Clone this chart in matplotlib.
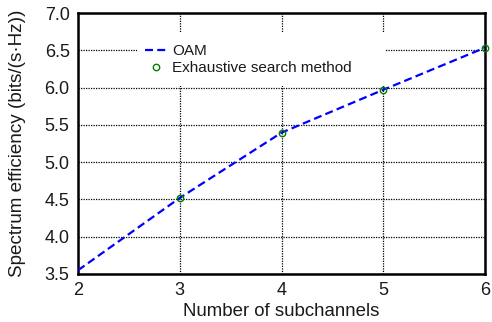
import matplotlib
matplotlib.use("Agg")
import matplotlib.pyplot as plt
from matplotlib.patches import Rectangle

plt.rcParams['font.family'] = ['Liberation Sans', 'DejaVu Sans']

subchannels = [2, 3, 4, 5, 6]
oam_efficiency = [3.55, 4.52, 5.395, 5.97, 6.535]
search_channels = [3, 4, 5, 6]
search_efficiency = [4.52, 5.395, 5.97, 6.535]

W, H = 492, 322
fig = plt.figure(figsize=(W / 100, H / 100), dpi=100)
ax = fig.add_axes([78 / W, 1 - 274 / H, (485 - 78) / W, (274 - 13) / H])
text_color = '#1a1a1a'

ax.plot(subchannels, oam_efficiency, color='#0000ff', linestyle=(0, (3.6, 1.9)),
        linewidth=1.6, label='OAM', zorder=3)
ax.plot(search_channels, search_efficiency, linestyle='none', marker='o',
        markersize=4.6, markerfacecolor='none', markeredgecolor='#008000',
        markeredgewidth=1.0, label='Exhaustive search method', zorder=4,
        clip_on=False)

ax.set_xlim(2, 6)
ax.set_ylim(3.5, 7.0)
ax.set_xticks([2, 3, 4, 5, 6])
ax.set_yticks([3.5, 4.0, 4.5, 5.0, 5.5, 6.0, 6.5, 7.0])
ax.set_yticklabels([f"{v:.1f}" for v in ax.get_yticks()])
ax.grid(True, color='black', linestyle=(0, (1, 1)), linewidth=0.9)
ax.tick_params(direction='in', length=0, labelsize=13, colors=text_color)
ax.tick_params(axis='y', pad=6)
ax.tick_params(axis='x', pad=6)
for s in ax.spines.values():
    s.set_linewidth(1.8)

ax.set_xlabel('Number of subchannels', fontsize=13.4, labelpad=3, color=text_color)
ax.set_ylabel('Spectrum efficiency (bits/(s·Hz))', fontsize=13.6, labelpad=13,
              color=text_color)

# white backing box behind the legend, hiding the grid there
box = Rectangle((137 / W, 1 - 86 / H), (386 - 137) / W, (86 - 32) / H,
                transform=fig.transFigure, facecolor='white', edgecolor='none',
                zorder=2.5)
box.set_clip_on(False)
ax.add_artist(box)

leg = ax.legend(loc='upper left', bbox_to_anchor=(145 / W, 1 - 44 / H),
                bbox_transform=fig.transFigure, frameon=False,
                fontsize=11, handlelength=1.4, handletextpad=0.4,
                borderpad=0, borderaxespad=0, labelspacing=0.22)
for t in leg.get_texts():
    t.set_color(text_color)
leg.set_zorder(5)

fig.savefig('out.png', dpi=100)
